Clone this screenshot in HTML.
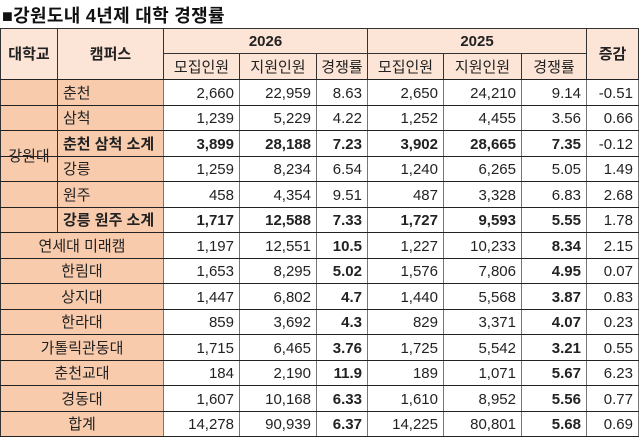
<!DOCTYPE html>
<html><head><meta charset="utf-8">
<style>
body{margin:0;width:640px;height:437px;background:#fff;overflow:hidden;position:relative;font-family:"Liberation Sans","Noto Sans CJK KR",sans-serif;color:#222}
#title{position:absolute;left:2px;top:2px;font-size:18px;font-weight:bold;color:#111;letter-spacing:0.3px}
.c{position:absolute;box-sizing:border-box;font-size:15px;display:flex;align-items:center;white-space:nowrap;overflow:hidden;padding-top:1px;line-height:1}
</style></head><body>
<div id="title">■강원도내 4년제 대학 경쟁률</div>
<div id="t"></div>
<script>
const xs=[0,57,163,239,316,367,443,521,586,638];
const rowY=[28,53,79];
for(let i=1;i<=14;i++)rowY.push(Math.round(79+25.5*i));
const schools=["강원대","","","","","","연세대 미래캠","한림대","상지대","한라대","가톨릭관동대","춘천교대","경동대","합계"];
const campuses=["춘천","삼척","춘천 삼척 소계","강릉","원주","강릉 원주 소계"];
const rows=[
["2,660","22,959","8.63","2,650","24,210","9.14","-0.51"],
["1,239","5,229","4.22","1,252","4,455","3.56","0.66"],
["3,899","28,188","7.23","3,902","28,665","7.35","-0.12"],
["1,259","8,234","6.54","1,240","6,265","5.05","1.49"],
["458","4,354","9.51","487","3,328","6.83","2.68"],
["1,717","12,588","7.33","1,727","9,593","5.55","1.78"],
["1,197","12,551","10.5","1,227","10,233","8.34","2.15"],
["1,653","8,295","5.02","1,576","7,806","4.95","0.07"],
["1,447","6,802","4.7","1,440","5,568","3.87","0.83"],
["859","3,692","4.3","829","3,371","4.07","0.23"],
["1,715","6,465","3.76","1,725","5,542","3.21","0.55"],
["184","2,190","11.9","189","1,071","5.67","6.23"],
["1,607","10,168","6.33","1,610","8,952","5.56","0.77"],
["14,278","90,939","6.37","14,225","80,801","5.68","0.69"]];
const t=document.getElementById('t');
function cell(x0,x1,y0,y1,txt,o){
 const d=document.createElement('div');d.className='c';
 d.style.left=x0+'px';d.style.top=y0+'px';d.style.width=(x1-x0+1)+'px';d.style.height=(y1-y0+1)+'px';
 d.style.border='1px solid '+(o.bc||'#333');
 d.style.background=o.bg||'#fff';
 d.style.justifyContent=o.al||'center';
 if(o.al==='flex-end')d.style.paddingRight='5px';
 if(o.al==='flex-start')d.style.paddingLeft='5px';
 if(o.b)d.style.fontWeight='bold';
 d.textContent=txt;
 
 
 t.appendChild(d);return d;}
const H='#fce4d6',L='#f8cbad';
cell(xs[0],xs[1],rowY[0],rowY[2],'대학교',{bg:H,b:1,n:'header-school'});
cell(xs[1],xs[2],rowY[0],rowY[2],'캠퍼스',{bg:H,b:1,n:'header-campus'});
cell(xs[2],xs[5],rowY[0],rowY[1],'2026',{bg:H,b:1,n:'header-2026'});
cell(xs[5],xs[8],rowY[0],rowY[1],'2025',{bg:H,b:1,n:'header-2025'});
cell(xs[8],xs[9],rowY[0],rowY[2],'증감',{bg:H,b:1,n:'header-change'});
const sub=['모집인원','지원인원','경쟁률','모집인원','지원인원','경쟁률'];
sub.forEach((s,i)=>cell(xs[2+i],xs[3+i],rowY[1],rowY[2],s,{bg:H,n:'subheader-'+i}));
cell(xs[0],xs[1],rowY[2],rowY[8],'강원대',{bg:L,n:'school-kangwon'});
campuses.forEach((c,i)=>cell(xs[1],xs[2],rowY[2+i],rowY[3+i],c,{bg:L,al:'flex-start',b:(i==2||i==5),n:'campus-'+i}));
for(let r=6;r<14;r++)cell(xs[0],xs[2],rowY[2+r],rowY[3+r],schools[r],{bg:L,n:'school-'+r});
rows.forEach((row,r)=>{
 const sb=(r==2||r==5);
 row.forEach((v,k)=>{
  const bold=(sb&&k<6)||(r>=6&&(k==2||k==5));
  cell(xs[2+k],xs[3+k],rowY[2+r],rowY[3+r],v,{al:'flex-end',b:bold,bc:'#777',n:'value-r'+r+'-c'+k});
 });
});
for(let i=2;i<rowY.length;i++){const l=document.createElement('div');l.style.cssText='position:absolute;left:0;width:639px;height:1px;background:#222;top:'+rowY[i]+'px';


t.appendChild(l);}
</script>
</body></html>
